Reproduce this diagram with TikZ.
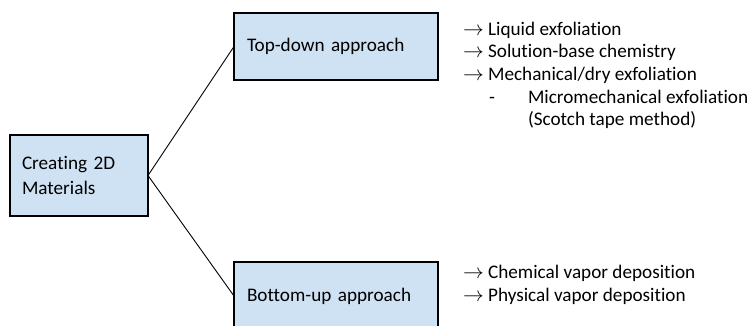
\documentclass[tikz,border=0pt]{standalone}
\usepackage{fontspec}
\setmainfont{Carlito}[Ligatures=NoCommon]
\definecolor{boxblue}{HTML}{CFE2F3}
\begin{document}
\begin{tikzpicture}[x=1pt,y=-1pt,
  box/.style={draw=black, fill=boxblue, line width=1.1pt, inner ysep=0pt, outer sep=0pt,
    align=left, font=\fontsize{19.2}{24.3}\selectfont},
  txt/.style={font=\fontsize{19.2}{22.7}\selectfont, inner sep=0pt, outer sep=0pt, anchor=base west},
  link/.style={line width=0.9pt}]
\useasboundingbox (0,0) rectangle (751,325);
\node[box, minimum width=138pt, minimum height=81pt, inner xsep=12pt, text width=114pt] (src) at (79,175.5) {Creating 2D\\Materials};
\node[box, minimum width=204pt, minimum height=67pt, inner xsep=13pt, text width=178pt] (top) at (336,46.5) {Top-down approach};
\node[box, minimum width=204pt, minimum height=68pt, inner xsep=13pt, text width=178pt] (bot) at (336,296) {Bottom-up approach};
\draw[link] (src.east) -- (top.west);
\draw[link] (src.east) -- (bot.west);
\node[txt] (t1) at (463,35) {$\rightarrow$ Liquid exfoliation};
\node[txt] (t2) at (463,57.7) {$\rightarrow$ Solution-base chemistry};
\node[txt] (t3) at (463,80.4) {$\rightarrow$ Mechanical/dry exfoliation};
\node[txt] (t4d) at (489,103.1) {-};
\node[txt] (t4) at (528,103.1) {Micromechanical exfoliation};
\node[txt] (t5) at (528,125.8) {(Scotch tape method)};
\node[txt] (b1) at (463,278.3) {$\rightarrow$ Chemical vapor deposition};
\node[txt] (b2) at (463,301.7) {$\rightarrow$ Physical vapor deposition};
\end{tikzpicture}
\end{document}
